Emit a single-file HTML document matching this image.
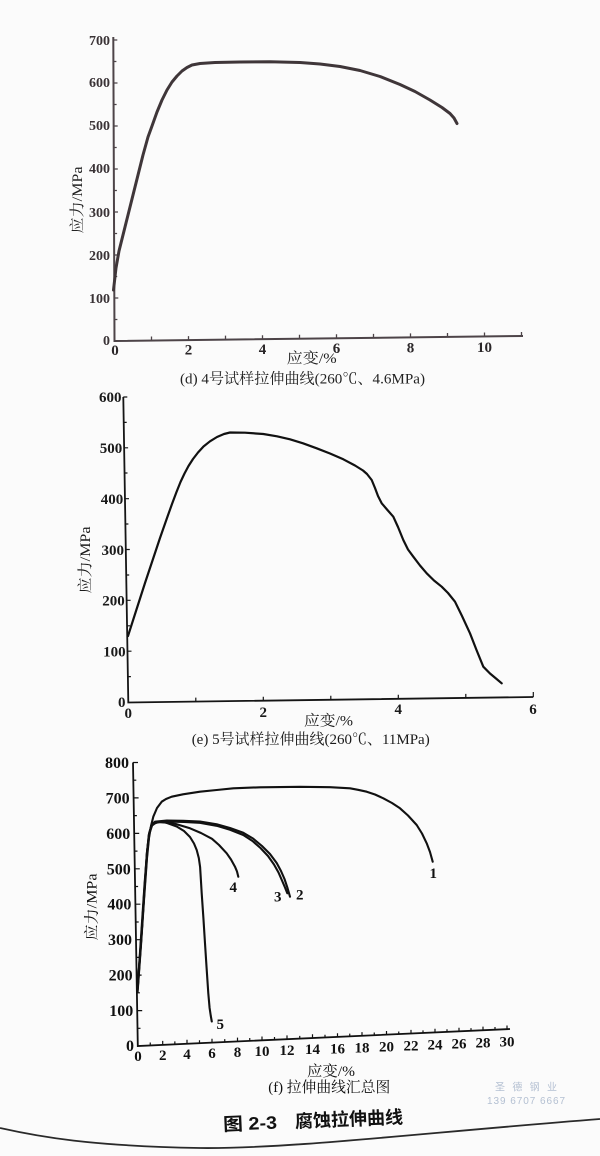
<!DOCTYPE html>
<html><head><meta charset="utf-8"><style>
html,body{margin:0;padding:0;background:#fbfbfb;}
svg{display:block;}
.s{font-family:"Liberation Serif","Noto Serif CJK SC",serif;}
.n{font-family:"Liberation Serif",serif;font-weight:bold;}
</style></head><body>
<svg width="600" height="1156" viewBox="0 0 600 1156" xmlns="http://www.w3.org/2000/svg">
<rect width="600" height="1156" fill="#fbfbfb"/>

<!-- ============ Chart (d) ============ -->
<g>
<path d="M113.3,37 L114.5,341 L523,336" fill="none" stroke="#4d4448" stroke-width="2"/>
<path d="M114.3,298h4M114.1,255h4M114,212h4M113.8,169h4M113.7,126h4M113.5,83h4M113.3,40h4M114.4,319.5h3M114.2,276.5h3M114.1,233.5h3M113.9,190.5h3M113.7,147.5h3M113.6,104.5h3M113.4,61.5h3" stroke="#4d4448" stroke-width="1.3"/>
<path d="M151.5,340.55v-4M188.5,340.1v-4M225.5,339.65v-4M262.5,339.2v-4M299.5,338.75v-4M336.5,338.3v-4M373.5,337.85v-4M410.5,337.4v-4M447.5,336.95v-4M484.5,336.5v-4M521.5,336.05v-4" stroke="#4d4448" stroke-width="1.3"/>
<g class="n" font-size="14" fill="#3a3336" text-anchor="end">
<text x="110" y="45">700</text><text x="110" y="87">600</text><text x="110" y="130">500</text><text x="110" y="173">400</text>
<text x="110" y="217">300</text><text x="110" y="260">200</text><text x="110" y="303">100</text><text x="110" y="345">0</text>
</g>
<g class="n" font-size="15" fill="#2a2628" text-anchor="middle">
<text x="115" y="355">0</text><text x="188.5" y="354.4">2</text><text x="262.5" y="353.8">4</text>
<text x="336.5" y="353.2">6</text><text x="410.5" y="352.6">8</text><text x="484.5" y="352">10</text>
</g>
<polyline points="113.5,290 116,268 119,251 125,227 131,203 137,179 143,155 148,137 152,126 157,112 162,100 167,90 172,82 177,76 182,71 187,67.5 192,65 200,63.5 215,62.5 240,62 270,61.8 300,62.5 320,64 340,66.5 360,70.5 380,76.5 400,84.5 415,91.5 430,100 442,107.5 450,113.5 454,118 457,123.5" fill="none" stroke="#3f3639" stroke-width="3" stroke-linejoin="round" stroke-linecap="round"/>
<text class="s" font-size="15" fill="#222" text-anchor="middle" transform="translate(77,200) rotate(-90)" dy="5" textLength="67" lengthAdjust="spacingAndGlyphs">应力/MPa</text>
<text class="s" font-size="15" fill="#222" x="286.7" y="363" textLength="50" lengthAdjust="spacingAndGlyphs">应变/%</text>
<text class="s" font-size="15" fill="#222" x="180" y="383.5" textLength="245" lengthAdjust="spacingAndGlyphs">(d) 4号试样拉伸曲线(260℃、4.6MPa)</text>
</g>

<!-- ============ Chart (e) ============ -->
<g>
<path d="M123.3,397 L128.3,702.5 L533.3,697" fill="none" stroke="#151515" stroke-width="1.8"/>
<path d="M127.5,651.2h4M126.6,600.3h4M125.8,549.5h4M125,498.7h4M124.1,447.8h4M123.3,397h4M127.9,676.6h3M127.1,625.8h3M126.2,575h3M125.4,524h3M124.5,473h3M123.7,422.4h3" stroke="#151515" stroke-width="1.2"/>
<path d="M195.8,701.6v-4M263.3,700.7v-4M330.8,699.7v-4M398.3,698.8v-4M465.8,697.9v-4M533.3,697v-5" stroke="#151515" stroke-width="1.2"/>
<g class="n" font-size="15" fill="#1a1a1a" text-anchor="end">
<text x="121.5" y="402">600</text><text x="122.3" y="453">500</text><text x="123.2" y="504">400</text>
<text x="124" y="555">300</text><text x="124.8" y="605.5">200</text><text x="125.6" y="656.5">100</text><text x="125.5" y="707">0</text>
</g>
<g class="n" font-size="15" fill="#1a1a1a" text-anchor="middle">
<text x="128.3" y="718">0</text><text x="263.3" y="717">2</text><text x="398.3" y="714">4</text><text x="533" y="714">6</text>
</g>
<polyline points="128,636 136,611 145,583 153,559 160,538 167,518 172,504 176.5,492 180.5,482 184.5,473.5 188.5,466 193,459 198,452.5 203.5,446.5 210,441.3 217,437 224,434 230,432.5 245,432.7 263.3,434 277,436.3 290,439.3 303,443.3 316.7,448.3 330,453.5 343.3,459.3 355,465.5 363,470.5 367,474 371.7,480 375,488 378,496 381.7,503.3 387,509.5 393.3,516.7 398,527 403.3,540 408,549.5 413.3,556.7 420,565.5 426.7,573.3 434,580.5 441.7,586.7 448,593 455,601.7 462,616 470,633.3 476.5,650 483.3,666.7 490,673.5 496,678.5 501.7,683.3" fill="none" stroke="#111" stroke-width="2.2" stroke-linejoin="round" stroke-linecap="round"/>
<text class="s" font-size="15" fill="#1a1a1a" text-anchor="middle" transform="translate(85,560) rotate(-90)" dy="5" textLength="67" lengthAdjust="spacingAndGlyphs">应力/MPa</text>
<text class="s" font-size="15" fill="#1a1a1a" x="304" y="725.5" textLength="49" lengthAdjust="spacingAndGlyphs">应变/%</text>
<text class="s" font-size="15" fill="#1a1a1a" x="191.7" y="744" textLength="238" lengthAdjust="spacingAndGlyphs">(e) 5号试样拉伸曲线(260℃、11MPa)</text>
</g>

<!-- ============ Chart (f) ============ -->
<g>
<path d="M133,762.5 L137.8,1046 L510,1029" fill="none" stroke="#111" stroke-width="1.8"/>
<path d="M137.2,1010.6h5M136.6,975.1h5M136,939.7h5M135.4,904.2h5M134.8,868.8h5M134.2,833.4h5M133.6,797.9h5M133,762.5h5M137.5,1028.3h3M136.9,992.8h3M136.3,957.4h3M135.7,922h3M135.1,886.5h3M134.5,851.1h3M133.9,815.6h3M133.3,780.2h3" stroke="#111" stroke-width="1.2"/>
<path d="M150.25,1045.45v-3M162.7,1044.9v-4M174.85,1044.35v-3M187,1043.8v-4M199.5,1043.25v-3M212,1042.7v-4M224.75,1042.15v-3M237.5,1041.6v-4M249.75,1041.05v-3M262,1040.5v-4M274.5,1039.95v-3M287,1039.4v-4M299.75,1038.85v-3M312.5,1038.3v-4M325,1037.75v-3M337.5,1037.2v-4M349.75,1036.65v-3M362,1036.1v-4M374.25,1035.55v-3M386.5,1035v-4M398.75,1034.45v-3M411,1033.9v-4M423,1033.35v-3M435,1032.8v-4M447,1032.25v-3M459,1031.7v-4M471,1031.15v-3M483,1030.6v-4M495,1030.05v-3M507,1029.5v-4" stroke="#111" stroke-width="1.2"/>
<g class="n" font-size="16" fill="#111" text-anchor="end">
<text x="129" y="768">800</text><text x="129.6" y="803.4">700</text><text x="130.2" y="838.9">600</text>
<text x="130.8" y="874.3">500</text><text x="131.4" y="909.7">400</text><text x="132" y="945.2">300</text>
<text x="132.6" y="980.6">200</text><text x="133.2" y="1016.1">100</text><text x="134" y="1051">0</text>
</g>
<g class="n" font-size="15" fill="#111" text-anchor="middle">
<text x="138" y="1060.8">0</text><text x="162.7" y="1059.9">2</text><text x="187" y="1058.9">4</text>
<text x="212" y="1058">6</text><text x="237.5" y="1057">8</text><text x="262" y="1056.1">10</text>
<text x="287" y="1055.2">12</text><text x="312.5" y="1054.2">14</text><text x="337.5" y="1053.3">16</text>
<text x="362" y="1052.3">18</text><text x="386.5" y="1051.4">20</text><text x="411" y="1050.5">22</text>
<text x="435" y="1049.5">24</text><text x="459" y="1048.6">26</text><text x="483" y="1047.6">28</text>
<text x="507" y="1046.7">30</text>
</g>
<g fill="none" stroke="#111" stroke-width="2.1" stroke-linejoin="round" stroke-linecap="round">
<polyline points="137.6,992 141,945 144,900 147,858 149,838 151,826 153.3,816.7 157,808 161.7,801.7 166,799 171.7,796.7 183,794.3 200,791.7 216.7,790 233.3,788.3 260,787.3 300,786.8 330,787.2 350,788.3 358,789.8 366.7,791.7 375,794.5 383.3,798.3 392,803 400,808.3 408,815.5 416.7,825 422,833.5 426.7,843.3 430,852 432.7,861.7"/>
<polyline points="137.8,985 141.5,930 144.5,885 147,852 149,834 151.5,825 155,821.7 166.7,820.5 183.3,820.8 200,821.5 216.7,824.3 230,828 243.3,832.8 253,838.5 262,846 270,854 276.7,863 281,871 284.5,879 287.5,888 290,896.7"/>
<polyline points="137.8,985 141.8,930 144.8,885 147.3,852 149.3,834 152,825.5 156,822.5 168,821.6 184,822 200,822.8 216.7,825.8 230,829.8 243.3,835 252.5,841 260.5,848 268,856 274,864.5 278.5,872.5 282,880.5 285,887.5 287.3,893.3"/>
<polyline points="137.6,990 141.5,935 144.5,890 147,852 149.5,832 152.5,824 160,821.8 175,823.8 190,828.3 201,833 212,838.8 219,845 226.7,853.3 231,859.5 235,866.7 237,871.5 238.3,876.7"/>
<polyline points="137.7,988 141.2,940 144.2,892 146.8,855 148.8,835 151.5,825 156.7,821.8 166,822.6 176.7,826.5 184,831 190,837 194,843.5 196.7,850 198.8,858 200.1,867 200.9,880 201.7,893.3 203.4,918 205,943.3 206.6,968 208.3,993.3 209.6,1008 210.8,1016 211.8,1021.5"/>
</g>
<g class="n" font-size="15" fill="#111">
<text x="429.5" y="878">1</text><text x="229.5" y="892">4</text><text x="274" y="901.5">3</text>
<text x="296" y="899.5">2</text><text x="216.5" y="1029">5</text>
</g>
<text class="s" font-size="15" fill="#111" text-anchor="middle" transform="translate(91.7,907) rotate(-90)" dy="5" textLength="67" lengthAdjust="spacingAndGlyphs">应力/MPa</text>
<text class="s" font-size="15" fill="#111" x="307" y="1076" textLength="48" lengthAdjust="spacingAndGlyphs">应变/%</text>
<text class="s" font-size="15" fill="#111" x="268.3" y="1092" textLength="122" lengthAdjust="spacingAndGlyphs">(f) 拉伸曲线汇总图</text>
</g>

<!-- watermark -->
<g font-family="'Liberation Sans','Noto Sans CJK SC',sans-serif" font-size="10" fill="#b4c0d2">
<text x="495" y="1090.5" textLength="62" lengthAdjust="spacing">圣 德 钢 业</text>
<text x="487" y="1104" textLength="78" lengthAdjust="spacing">139 6707 6667</text>
</g>

<!-- Figure title -->
<g font-family="'Liberation Sans','Noto Sans CJK SC',sans-serif" font-weight="bold" font-size="18" fill="#111" transform="rotate(-2.4 313 1120)">
<text x="223" y="1127" textLength="54" lengthAdjust="spacingAndGlyphs">图 2-3</text>
<text x="295" y="1127" textLength="108" lengthAdjust="spacingAndGlyphs">腐蚀拉伸曲线</text>
</g>

<!-- page edge curve -->
<path d="M0,1128 C40,1137 90,1146 200,1148 C290,1149 420,1133 600,1119" fill="none" stroke="#2a2a2a" stroke-width="1.8"/>
</svg>
</body></html>
